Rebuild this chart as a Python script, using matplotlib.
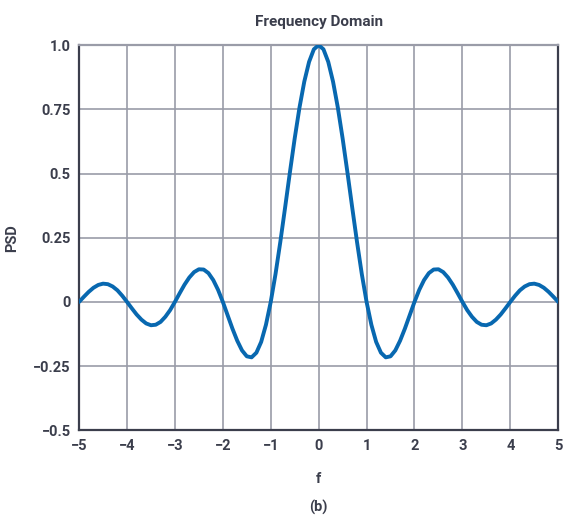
import matplotlib.pyplot as plt
import numpy as np

# values, f from -5 to 5 in steps of 0.1 (curve is symmetric)
f_half = [0.0, 0.1, 0.2, 0.3, 0.4, 0.5, 0.6, 0.7, 0.8, 0.9,
          1.0, 1.1, 1.2, 1.3, 1.4, 1.5, 1.6, 1.7, 1.8, 1.9,
          2.0, 2.1, 2.2, 2.3, 2.4, 2.5, 2.6, 2.7, 2.8, 2.9,
          3.0, 3.1, 3.2, 3.3, 3.4, 3.5, 3.6, 3.7, 3.8, 3.9,
          4.0, 4.1, 4.2, 4.3, 4.4, 4.5, 4.6, 4.7, 4.8, 4.9, 5.0]
psd_half = [1.0, 0.984, 0.935, 0.858, 0.757, 0.637, 0.505, 0.368, 0.234, 0.109,
            0.0, -0.089, -0.156, -0.198, -0.216, -0.212, -0.189, -0.151, -0.104, -0.052,
            0.0, 0.047, 0.085, 0.112, 0.126, 0.127, 0.116, 0.095, 0.067, 0.034,
            0.0, -0.032, -0.058, -0.078, -0.089, -0.091, -0.084, -0.069, -0.049, -0.025,
            0.0, 0.024, 0.045, 0.060, 0.069, 0.071, 0.066, 0.055, 0.039, 0.020, 0.0]

x_ticks = [-5, -4, -3, -2, -1, 0, 1, 2, 3, 4, 5]
y_ticks = [-0.5, -0.25, 0, 0.25, 0.5, 0.75, 1.0]
y_ticklabels = ["\u22120.5", "\u22120.25", "0", "0.25", "0.5", "0.75", "1.0"]

f = np.concatenate([-np.array(f_half[:0:-1]), np.array(f_half)])
psd = np.concatenate([np.array(psd_half[:0:-1]), np.array(psd_half)])

TEXT = "#3b3e4c"
GRID = "#9a9ca8"
LINE = "#0868b0"

plt.rcParams["font.family"] = ["Roboto", "DejaVu Sans"]
plt.rcParams["font.weight"] = "bold"

fig = plt.figure(figsize=(5.65, 5.19), dpi=100)
ax = fig.add_axes([0.140, 0.171, 0.848, 0.742])

ax.plot(f, psd, color=LINE, linewidth=2.8, solid_capstyle="round", zorder=3)

ax.set_xlim(-5, 5)
ax.set_ylim(-0.5, 1.0)
ax.set_xticks(x_ticks)
ax.set_xticklabels([str(t).replace("-", "\u2212") for t in x_ticks])
ax.set_yticks(y_ticks)
ax.set_yticklabels(y_ticklabels)
ax.grid(True, color=GRID, linewidth=1.2)
ax.set_axisbelow(True)
ax.tick_params(length=0, pad=6, labelsize=10.5, labelcolor=TEXT)
for lbl in ax.get_xticklabels() + ax.get_yticklabels():
    lbl.set_fontweight("bold")

for side in ["left", "bottom", "right"]:
    ax.spines[side].set_color(TEXT)
    ax.spines[side].set_linewidth(1.6)
ax.spines["top"].set_color(GRID)
ax.spines["top"].set_linewidth(1.6)

ax.set_title("Frequency Domain", fontsize=11, fontweight="bold", color=TEXT, pad=14)
ax.set_ylabel("PSD", fontsize=10.5, fontweight="bold", color=TEXT, labelpad=10)
ax.set_xlabel("f", fontsize=10.5, fontweight="bold", color=TEXT, labelpad=14)
fig.text(0.563, 0.015, "(b)", fontsize=10.5, fontweight="bold", color=TEXT, ha="center")

fig.savefig("out.png", dpi=100)
